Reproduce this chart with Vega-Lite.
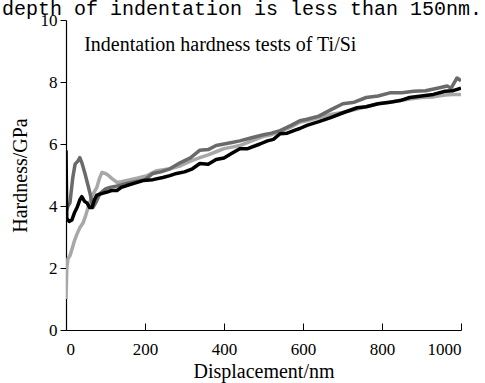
{
  "$schema": "https://vega.github.io/schema/vega-lite/v6.json",
  "width": 395,
  "height": 310,
  "autosize": "none",
  "padding": {"left": 66, "top": 20, "right": 24, "bottom": 53},
  "background": "white",
  "title": {
    "text": "depth of indentation is less than 150nm.",
    "font": "Liberation Mono",
    "fontSize": 20,
    "fontWeight": "normal",
    "color": "black",
    "anchor": "start",
    "frame": "group",
    "dx": -64,
    "offset": -24,
    "baseline": "alphabetic"
  },
  "config": {
    "view": {"stroke": null},
    "axis": {
      "grid": false,
      "domainColor": "black",
      "tickColor": "black",
      "labelColor": "black",
      "titleColor": "black",
      "labelFont": "Liberation Serif",
      "titleFont": "Liberation Serif",
      "labelFontSize": 17,
      "titleFontSize": 20,
      "titleFontWeight": "normal"
    }
  },
  "data": {
    "values": [
      {"s": "C", "x": 0, "y": 1.0}, {"s": "C", "x": 2, "y": 2.0}, {"s": "C", "x": 5, "y": 2.3}, {"s": "C", "x": 10, "y": 2.4},
      {"s": "C", "x": 15, "y": 2.6}, {"s": "C", "x": 22, "y": 2.9}, {"s": "C", "x": 28, "y": 3.1}, {"s": "C", "x": 35, "y": 3.3},
      {"s": "C", "x": 43, "y": 3.45}, {"s": "C", "x": 50, "y": 3.7}, {"s": "C", "x": 56, "y": 3.95}, {"s": "C", "x": 65, "y": 4.3},
      {"s": "C", "x": 78, "y": 4.6}, {"s": "C", "x": 85, "y": 4.9}, {"s": "C", "x": 91, "y": 5.08}, {"s": "C", "x": 100, "y": 5.05},
      {"s": "C", "x": 106, "y": 5.0}, {"s": "C", "x": 115, "y": 4.9}, {"s": "C", "x": 129, "y": 4.76}, {"s": "C", "x": 140, "y": 4.78},
      {"s": "C", "x": 154, "y": 4.82}, {"s": "C", "x": 180, "y": 4.9}, {"s": "C", "x": 205, "y": 4.98}, {"s": "C", "x": 230, "y": 5.14},
      {"s": "C", "x": 263, "y": 5.2}, {"s": "C", "x": 290, "y": 5.3}, {"s": "C", "x": 315, "y": 5.45}, {"s": "C", "x": 339, "y": 5.56},
      {"s": "C", "x": 360, "y": 5.65}, {"s": "C", "x": 380, "y": 5.75}, {"s": "C", "x": 400, "y": 5.85}, {"s": "C", "x": 420, "y": 5.9},
      {"s": "C", "x": 440, "y": 5.95}, {"s": "C", "x": 470, "y": 6.1}, {"s": "C", "x": 500, "y": 6.25}, {"s": "C", "x": 520, "y": 6.3},
      {"s": "C", "x": 542, "y": 6.4}, {"s": "C", "x": 570, "y": 6.55}, {"s": "C", "x": 592, "y": 6.7}, {"s": "C", "x": 610, "y": 6.75},
      {"s": "C", "x": 640, "y": 6.85}, {"s": "C", "x": 670, "y": 6.95}, {"s": "C", "x": 700, "y": 7.02}, {"s": "C", "x": 719, "y": 7.07},
      {"s": "C", "x": 760, "y": 7.2}, {"s": "C", "x": 790, "y": 7.3}, {"s": "C", "x": 820, "y": 7.35}, {"s": "C", "x": 846, "y": 7.4},
      {"s": "C", "x": 870, "y": 7.45}, {"s": "C", "x": 900, "y": 7.5}, {"s": "C", "x": 930, "y": 7.52}, {"s": "C", "x": 960, "y": 7.58},
      {"s": "C", "x": 980, "y": 7.6}, {"s": "C", "x": 1000, "y": 7.6},

      {"s": "B", "x": 0, "y": 3.8}, {"s": "B", "x": 5, "y": 4.0}, {"s": "B", "x": 10, "y": 4.1}, {"s": "B", "x": 17, "y": 4.9},
      {"s": "B", "x": 23, "y": 5.35}, {"s": "B", "x": 30, "y": 5.45}, {"s": "B", "x": 35, "y": 5.56}, {"s": "B", "x": 40, "y": 5.4},
      {"s": "B", "x": 48, "y": 5.05}, {"s": "B", "x": 55, "y": 4.7}, {"s": "B", "x": 61, "y": 4.4}, {"s": "B", "x": 68, "y": 3.95},
      {"s": "B", "x": 75, "y": 4.1}, {"s": "B", "x": 86, "y": 4.4}, {"s": "B", "x": 100, "y": 4.55}, {"s": "B", "x": 111, "y": 4.6},
      {"s": "B", "x": 130, "y": 4.65}, {"s": "B", "x": 154, "y": 4.73}, {"s": "B", "x": 180, "y": 4.8}, {"s": "B", "x": 200, "y": 4.85},
      {"s": "B", "x": 220, "y": 5.05}, {"s": "B", "x": 240, "y": 5.1}, {"s": "B", "x": 263, "y": 5.2}, {"s": "B", "x": 290, "y": 5.4},
      {"s": "B", "x": 315, "y": 5.55}, {"s": "B", "x": 339, "y": 5.8}, {"s": "B", "x": 360, "y": 5.82}, {"s": "B", "x": 380, "y": 5.95},
      {"s": "B", "x": 400, "y": 6.0}, {"s": "B", "x": 420, "y": 6.05}, {"s": "B", "x": 440, "y": 6.1}, {"s": "B", "x": 470, "y": 6.2},
      {"s": "B", "x": 500, "y": 6.3}, {"s": "B", "x": 520, "y": 6.35}, {"s": "B", "x": 542, "y": 6.43}, {"s": "B", "x": 570, "y": 6.6},
      {"s": "B", "x": 592, "y": 6.75}, {"s": "B", "x": 610, "y": 6.8}, {"s": "B", "x": 640, "y": 6.9}, {"s": "B", "x": 670, "y": 7.1},
      {"s": "B", "x": 701, "y": 7.3}, {"s": "B", "x": 730, "y": 7.35}, {"s": "B", "x": 760, "y": 7.5}, {"s": "B", "x": 790, "y": 7.55},
      {"s": "B", "x": 820, "y": 7.65}, {"s": "B", "x": 850, "y": 7.65}, {"s": "B", "x": 880, "y": 7.7}, {"s": "B", "x": 910, "y": 7.72},
      {"s": "B", "x": 940, "y": 7.8}, {"s": "B", "x": 965, "y": 7.87}, {"s": "B", "x": 975, "y": 7.8}, {"s": "B", "x": 990, "y": 8.13},
      {"s": "B", "x": 1000, "y": 8.04},

      {"s": "A", "x": 0, "y": 5.8}, {"s": "A", "x": 2, "y": 3.6}, {"s": "A", "x": 8, "y": 3.5}, {"s": "A", "x": 15, "y": 3.55},
      {"s": "A", "x": 22, "y": 3.8}, {"s": "A", "x": 28, "y": 3.95}, {"s": "A", "x": 35, "y": 4.2}, {"s": "A", "x": 40, "y": 4.3},
      {"s": "A", "x": 47, "y": 4.15}, {"s": "A", "x": 53, "y": 4.1}, {"s": "A", "x": 60, "y": 3.95}, {"s": "A", "x": 66, "y": 3.95},
      {"s": "A", "x": 72, "y": 4.2}, {"s": "A", "x": 78, "y": 4.35}, {"s": "A", "x": 90, "y": 4.4}, {"s": "A", "x": 104, "y": 4.45},
      {"s": "A", "x": 115, "y": 4.5}, {"s": "A", "x": 129, "y": 4.5}, {"s": "A", "x": 140, "y": 4.6}, {"s": "A", "x": 154, "y": 4.66},
      {"s": "A", "x": 170, "y": 4.72}, {"s": "A", "x": 195, "y": 4.82}, {"s": "A", "x": 220, "y": 4.85}, {"s": "A", "x": 245, "y": 4.92},
      {"s": "A", "x": 263, "y": 4.98}, {"s": "A", "x": 280, "y": 5.05}, {"s": "A", "x": 300, "y": 5.1}, {"s": "A", "x": 320, "y": 5.2},
      {"s": "A", "x": 339, "y": 5.37}, {"s": "A", "x": 360, "y": 5.35}, {"s": "A", "x": 380, "y": 5.5}, {"s": "A", "x": 400, "y": 5.55},
      {"s": "A", "x": 420, "y": 5.7}, {"s": "A", "x": 440, "y": 5.85}, {"s": "A", "x": 460, "y": 5.85}, {"s": "A", "x": 491, "y": 6.0},
      {"s": "A", "x": 510, "y": 6.1}, {"s": "A", "x": 525, "y": 6.15}, {"s": "A", "x": 542, "y": 6.33}, {"s": "A", "x": 560, "y": 6.35},
      {"s": "A", "x": 580, "y": 6.45}, {"s": "A", "x": 592, "y": 6.5}, {"s": "A", "x": 610, "y": 6.6}, {"s": "A", "x": 640, "y": 6.72},
      {"s": "A", "x": 670, "y": 6.85}, {"s": "A", "x": 700, "y": 7.0}, {"s": "A", "x": 737, "y": 7.17}, {"s": "A", "x": 760, "y": 7.2},
      {"s": "A", "x": 790, "y": 7.3}, {"s": "A", "x": 820, "y": 7.35}, {"s": "A", "x": 846, "y": 7.4}, {"s": "A", "x": 870, "y": 7.5},
      {"s": "A", "x": 900, "y": 7.55}, {"s": "A", "x": 930, "y": 7.6}, {"s": "A", "x": 960, "y": 7.7}, {"s": "A", "x": 980, "y": 7.72},
      {"s": "A", "x": 1000, "y": 7.8}
    ]
  },
  "layer": [
    {
      "mark": {"type": "line", "strokeWidth": 3.5, "strokeJoin": "round", "clip": true},
      "encoding": {
        "x": {
          "field": "x", "type": "quantitative",
          "scale": {"domain": [0, 1000], "nice": false},
          "axis": {"title": "Displacement/nm", "values": [0, 200, 400, 600, 800, 1000], "format": "d", "tickSize": -7, "labelPadding": 18, "titlePadding": 4, "domainWidth": 1.2}
        },
        "y": {
          "field": "y", "type": "quantitative",
          "scale": {"domain": [0, 10], "nice": false},
          "axis": {"title": "Hardness/GPa", "values": [0, 2, 4, 6, 8, 10], "tickSize": 6, "labelPadding": 3, "titlePadding": 10, "domainWidth": 1.2}
        },
        "color": {
          "field": "s", "type": "nominal", "legend": null,
          "scale": {"domain": ["C", "B", "A"], "range": ["#a8a8a8", "#6a6a6a", "#000000"]}
        },
        "order": {"field": "x", "type": "quantitative"}
      }
    },
    {
      "data": {"values": [{"x": 46, "y": 9.2, "t": "Indentation hardness tests of Ti/Si"}]},
      "mark": {"type": "text", "align": "left", "baseline": "middle", "font": "Liberation Serif", "fontSize": 20, "color": "black"},
      "encoding": {
        "x": {"field": "x", "type": "quantitative"},
        "y": {"field": "y", "type": "quantitative"},
        "text": {"field": "t"}
      }
    }
  ]
}
